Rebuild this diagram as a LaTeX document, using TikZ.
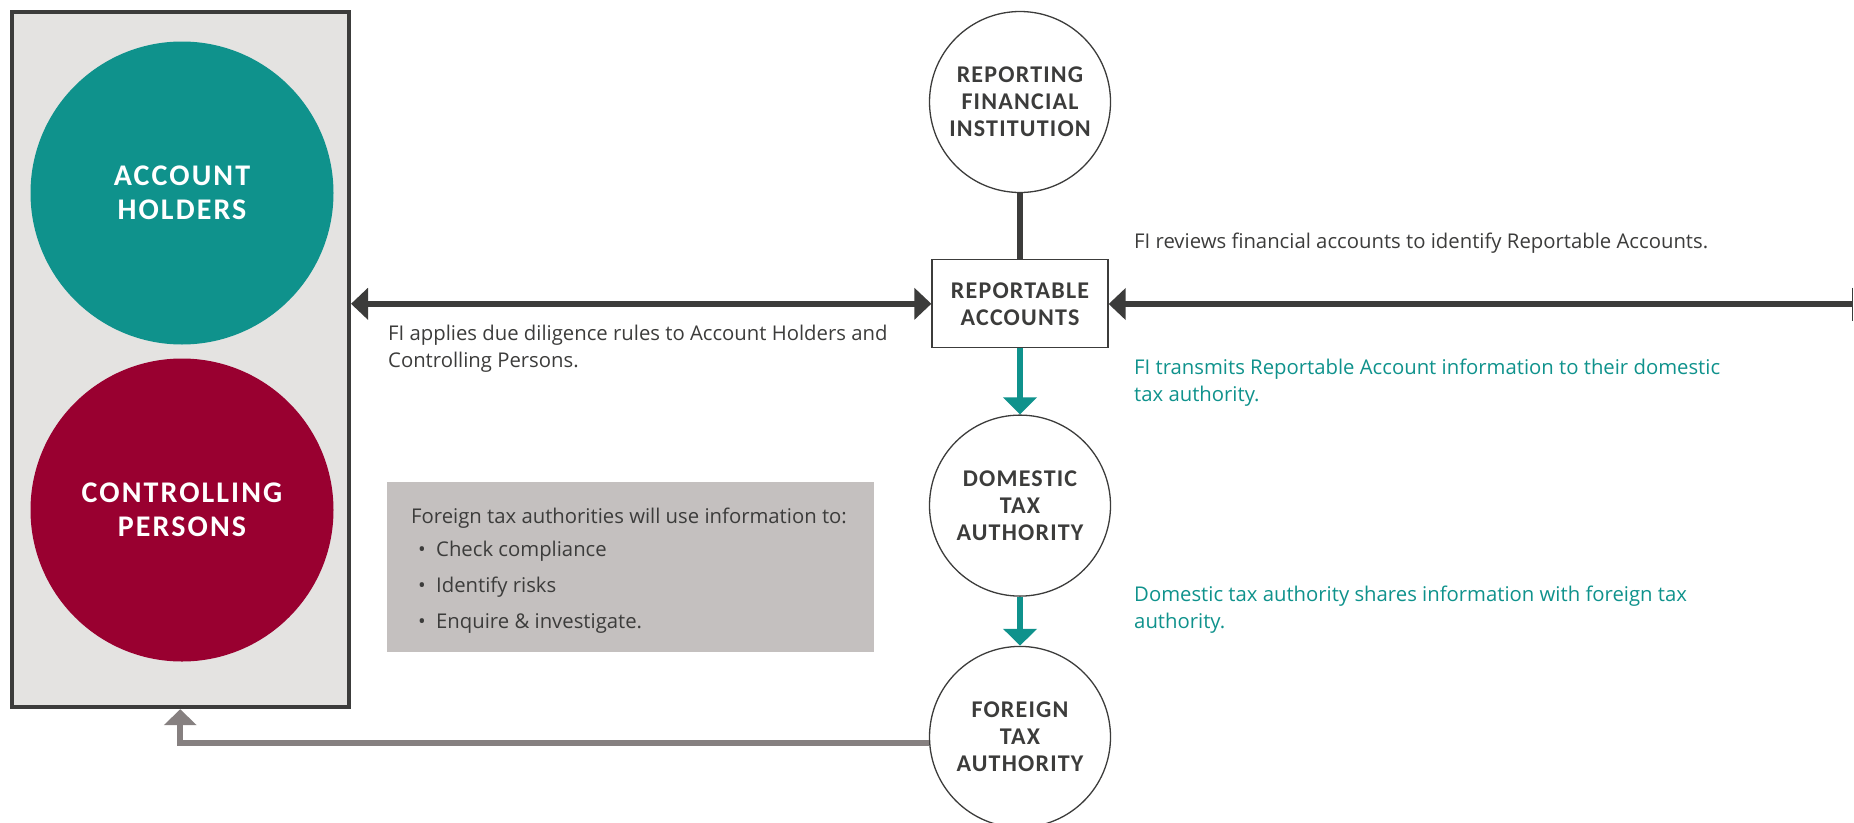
\documentclass[tikz,border=0pt]{standalone}
\usepackage{fontspec}
\setmainfont{Carlito}
\newfontfamily\bodyfont{Open Sans}
\usetikzlibrary{positioning, arrows.meta, calc}

\definecolor{fiteal}{HTML}{0F928C}
\definecolor{fimaroon}{HTML}{990030}
\definecolor{inkgray}{HTML}{3C3C3B}
\definecolor{linkgray}{HTML}{868080}
\definecolor{panelgray}{HTML}{C4C0BF}
\definecolor{boxfill}{HTML}{E4E3E1}

\newcommand{\capsfont}{\bfseries\addfontfeatures{LetterSpace=5}}
\newcommand{\bulletitem}[1]{\hspace*{7pt}\makebox[18pt][l]{\textbullet}#1}

\begin{document}
\begin{tikzpicture}[x=1pt, y=-1pt,
    party/.style={circle, inner sep=0pt, minimum size=303pt, text=white,
        align=center, font=\fontsize{30}{34}\selectfont\capsfont\addfontfeatures{LetterSpace=7}},
    actor/.style={circle, draw=inkgray, line width=1.3pt, fill=white,
        inner sep=0pt, minimum size=181pt, text=inkgray, align=center,
        font=\fontsize{24}{27}\selectfont\capsfont},
    acctbox/.style={rectangle, draw=inkgray, line width=1.3pt, fill=white,
        minimum width=176pt, minimum height=88pt, inner sep=0pt,
        text=inkgray, align=center, font=\fontsize{24}{27}\selectfont\capsfont},
    note/.style={anchor=north west, inner sep=0pt, align=left, text=inkgray,
        font=\bodyfont\fontsize{20.3}{27}\selectfont},
    dd/.tip={Triangle[length=17pt, width=31pt]},
    dark link/.style={draw=inkgray, line width=5.5pt},
    teal link/.style={draw=fiteal, line width=6.5pt, -{Triangle[length=17pt, width=33pt]}},
    gray link/.style={draw=linkgray, line width=6pt, -{Triangle[length=16pt, width=32pt]}},
]
    \useasboundingbox (0,0) rectangle (1854,822);

    % account holders and controlling persons
    \node[rectangle, draw=inkgray, line width=4pt, fill=boxfill,
        minimum width=337.5pt, minimum height=695pt] (parties) at (180.25,359.7) {};
    \node[party, fill=fiteal] (holders) at (182,193) {ACCOUNT\\HOLDERS};
    \node[party, fill=fimaroon] (controllers) at (182,510) {CONTROLLING\\PERSONS};

    % reporting chain
    \node[actor] (rfi) at (1020,102) {REPORTING\\FINANCIAL\\INSTITUTION};
    \node[acctbox, below=66pt of rfi] (accounts) {REPORTABLE\\ACCOUNTS};
    \node[actor, below=66pt of accounts] (domestic) {DOMESTIC\\TAX\\AUTHORITY};
    \node[actor, below=49pt of domestic] (foreign) {FOREIGN\\TAX\\AUTHORITY};
    \coordinate (rimedge) at (1853,304);

    % texts
    \node[note] (review) at (1134,233)
        {FI reviews financial accounts to identify Reportable Accounts.};
    \node[note, text=fiteal] (transmit) at (1134,359)
        {FI transmits Reportable Account information to their domestic\\tax authority.};
    \node[note, text=fiteal] (share) at (1134,586)
        {Domestic tax authority shares information with foreign tax\\authority.};
    \node[note] (diligence) at (388,325)
        {FI applies due diligence rules to Account Holders and\\Controlling Persons.};
    \node[rectangle, fill=panelgray, inner sep=0pt, anchor=north west,
        minimum width=487pt, minimum height=170pt] (uses) at (387,482) {};
    \node[note] (usetext) at ([shift={(24,26)}]uses.north west)
        {Foreign tax authorities will use information to:\\[6pt]
         \bulletitem{Check compliance}\\[9pt]
         \bulletitem{Identify risks}\\[9pt]
         \bulletitem{Enquire \& investigate.}};

    % connectors
    \draw[dark link] (rfi) -- (accounts);
    \draw[dark link, {dd}-{dd}] (parties.east |- accounts.west) -- (accounts.west);
    \draw[dark link, {Bar[width=33pt, line width=1.2pt]}-{dd}] (rimedge) -- (rimedge -| accounts.east);
    \draw[teal link] (accounts) -- (domestic);
    \draw[teal link] (domestic) -- (foreign);
    \draw[gray link] ([yshift=-6pt]foreign.west) -| (parties.south);
\end{tikzpicture}
\end{document}
